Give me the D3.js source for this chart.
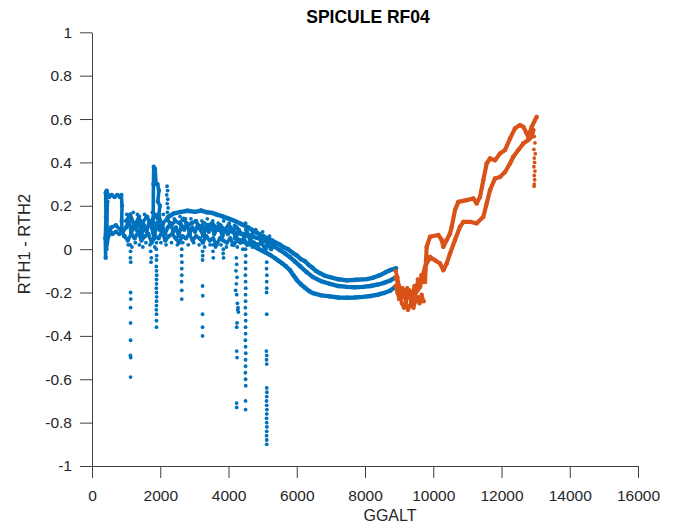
<!DOCTYPE html>
<html>
<head>
<meta charset="utf-8">
<script src="https://cdn.jsdelivr.net/npm/d3@7"></script>
<style>
  html, body { margin: 0; padding: 0; background: #fff; }
  svg { display: block; }
  text { font-family: "Liberation Sans", Arial, Helvetica, sans-serif; }
</style>
</head>
<body>
<svg id="chart" width="673" height="524"></svg>
<script>
// ---- axis ticks ----
const xTicks = [0, 2000, 4000, 6000, 8000, 10000, 12000, 14000, 16000];
const yTicks = [1, 0.8, 0.6, 0.4, 0.2, 0, -0.2, -0.4, -0.6, -0.8, -1];
const yTickLabels = ["1", "0.8", "0.6", "0.4", "0.2", "0", "-0.2", "-0.4", "-0.6", "-0.8", "-1"];

// ---- blue series (lower altitudes): continuous flight tracks [GGALT, RTH1-RTH2] ----
const blueLoop = [[400,-0.04],[390,0.05],[410,0.15],[400,0.26],[430,0.27],[500,0.24],[580,0.25],[660,0.24],
  [740,0.25],[820,0.24],[860,0.25],[880,0.20],[870,0.13],[880,0.08],[800,0.07],[700,0.08],[600,0.07],
  [520,0.09],[460,0.06],[430,0.14],[450,0.22],[420,0.0],[480,0.06],[560,0.10],[700,0.11],[880,0.08],[950,0.06]];

const blueBandMid = [[900,0.08],[1000,0.10],[1080,0.14],[1150,0.07],[1230,0.12],[1300,0.09],[1380,0.15],[1450,0.06],
  [1520,0.11],[1600,0.08],[1680,0.13],[1750,0.10],[1820,0.05],[1900,0.12],[1980,0.09],[2060,0.11],[2140,0.07],
  [2220,0.10],[2300,0.12],[2380,0.08],[2460,0.10],[2540,0.06],[2620,0.11],[2700,0.09],[2780,0.12],[2860,0.07],
  [2940,0.10],[3020,0.08],[3100,0.11],[3180,0.09],[3260,0.06],[3340,0.10],[3420,0.08],[3500,0.11],[3580,0.07],
  [3660,0.09],[3740,0.10],[3820,0.06],[3900,0.09],[3980,0.07],[4060,0.10],[4140,0.08],[4220,0.05],[4300,0.09],
  [4380,0.07],[4460,0.06],[4540,0.08],[4620,0.05],[4700,0.07]];

const blueBandLow = [[950,0.06],[1050,0.04],[1150,0.07],[1250,0.05],[1350,0.08],[1450,0.04],[1550,0.06],[1650,0.07],
  [1750,0.03],[1850,0.06],[1950,0.05],[2050,0.08],[2150,0.04],[2250,0.06],[2350,0.07],[2450,0.05],[2550,0.03],
  [2650,0.06],[2750,0.05],[2850,0.07],[2950,0.04],[3050,0.06],[3150,0.05],[3250,0.03],[3350,0.06],[3450,0.04],
  [3550,0.05],[3650,0.02],[3750,0.05],[3850,0.04],[3950,0.03],[4050,0.05],[4150,0.02],[4250,0.04],[4350,0.03],
  [4450,0.05],[4550,0.02],[4650,0.04],[4750,0.03],[4850,0.02],[4950,0.03],[5050,0.01],[5150,0.02],[5250,0.0]];

const blueBandHigh = [[1000,0.13],[1120,0.16],[1240,0.11],[1360,0.14],[1480,0.12],[1600,0.15],[1720,0.12],[1840,0.16],
  [1960,0.13],[2080,0.12],[2200,0.14],[2320,0.11],[2440,0.13],[2560,0.12],[2680,0.14],[2800,0.11],[2920,0.12],
  [3040,0.13],[3160,0.10],[3280,0.12],[3400,0.11],[3520,0.12],[3640,0.10],[3760,0.11],[3880,0.09],[4000,0.11],
  [4120,0.09],[4240,0.10]];

// scattered samples filling the noisy low-level band
const blueBandDots = [[1020,0.16],[1060,0.02],[1110,0.15],[1170,0.01],[1210,0.17],[1270,0.03],[1330,0.16],[1390,0.02],
  [1430,0.13],[1490,0.01],[1540,0.16],[1580,0.03],[1630,0.15],[1700,0.02],[1770,0.17],[1840,0.01],[1930,0.15],
  [2020,0.03],[2090,0.16],[2170,0.02],[2260,0.15],[2330,0.03],[2410,0.14],[2500,0.02],[2580,0.15],[2660,0.03],
  [2740,0.14],[2820,0.02],[2900,0.14],[2980,0.03],[3060,0.13],[3140,0.02],[3220,0.13],[3300,0.01],[3380,0.14],
  [3460,0.02],[3540,0.13],[3620,0.01],[3700,0.12],[3780,0.02],[3860,0.13],[3940,0.01],[4020,0.12],[4100,0.02],
  [4180,0.11],[4260,0.01],[4340,0.12],[4420,0.0],[4600,0.10],[4700,0.01],[4800,0.09],[4900,0.02],[5000,0.08],
  [5100,0.0],[5200,0.06],[5300,0.01]];

const blueSpike = [[1790,0.08],[1800,0.30],[1810,0.38],[1850,0.37],[1880,0.30],[1920,0.30],[1960,0.27],[1930,0.22],
  [1990,0.20],[1960,0.16],[2000,0.13],[2010,0.10]];

const blueUpper = [[2227,0.148],[2400,0.165],[2579,0.171],[2800,0.177],[3018,0.172],[3200,0.178],[3370,0.170],
  [3520,0.167],[3663,0.159],[3830,0.151],[3985,0.142],[4120,0.134],[4249,0.125],[4400,0.114],[4542,0.102],
  [4680,0.090],[4806,0.078],[4920,0.068],[5040,0.058],[5160,0.048],[5275,0.040],[5400,0.029],[5509,0.020],
  [5620,0.008],[5743,0.000],[5880,-0.017],[6007,-0.030],[6120,-0.046],[6241,-0.056],[6350,-0.073],[6447,-0.084],
  [6560,-0.100],[6681,-0.111],[6830,-0.123],[6974,-0.129],[7220,-0.139],[7473,-0.144],[7760,-0.141],
  [8059,-0.138],[8250,-0.131],[8440,-0.120],[8600,-0.107],[8733,-0.097],[8908,-0.088]];

const blueMiddle = [[3165,0.097],[3400,0.095],[3604,0.092],[3820,0.086],[4044,0.083],[4260,0.074],[4483,0.069],
  [4680,0.058],[4864,0.051],[5040,0.038],[5216,0.028],[5370,0.010],[5509,-0.005],[5660,-0.020],[5802,-0.037],
  [5950,-0.058],[6095,-0.078],[6290,-0.106],[6476,-0.129],[6720,-0.148],[6974,-0.160],[7220,-0.170],
  [7473,-0.174],[7700,-0.176],[7941,-0.174],[8160,-0.170],[8381,-0.163],[8560,-0.155],[8733,-0.145],[8908,-0.129]];

const blueLower = [[4190,0.051],[4410,0.036],[4630,0.023],[4850,0.004],[5070,-0.014],[5220,-0.027],[5363,-0.042],
  [5470,-0.054],[5568,-0.065],[5690,-0.080],[5802,-0.097],[5900,-0.120],[6007,-0.143],[6120,-0.162],[6241,-0.178],
  [6360,-0.193],[6476,-0.203],[6720,-0.213],[6974,-0.218],[7220,-0.223],[7473,-0.224],[7700,-0.223],
  [7941,-0.220],[8160,-0.216],[8381,-0.210],[8560,-0.202],[8733,-0.192],[8908,-0.171]];

// ---- blue isolated samples ----
const blueScatter = [
  [1120,0.02],[1130,-0.01],[1125,-0.04],[1135,-0.06],[1130,-0.20],[1135,-0.23],[1130,-0.27],[1130,-0.34],
  [1130,-0.42],[1125,-0.49],[1135,-0.50],[1130,-0.59],
  [1720,-0.01],[1740,-0.04],[1730,-0.06],
  [1890,0.03],[1885,0.0],[1895,-0.03],[1890,-0.05],[1885,-0.08],[1890,-0.10],[1895,-0.12],[1890,-0.14],
  [1890,-0.16],[1885,-0.18],[1890,-0.20],[1895,-0.22],[1890,-0.24],[1890,-0.26],[1885,-0.28],[1890,-0.30],
  [1890,-0.33],[1890,-0.36],
  [2200,0.29],[2215,0.27],[2190,0.25],[2220,0.23],[2205,0.21],[2230,0.19],[2210,0.17],
  [2630,0.0],[2625,-0.03],[2635,-0.06],[2630,-0.09],[2630,-0.12],[2625,-0.15],[2630,-0.19],[2630,-0.23],
  [3240,-0.01],[3245,-0.03],[3240,-0.05],[3240,-0.17],[3245,-0.215],[3240,-0.30],[3240,-0.36],[3240,-0.40],
  [3550,0.02],[3545,-0.01],[3555,-0.04],
  [3850,0.0],[3845,-0.02],[3855,-0.04],
  [4230,-0.04],[4240,-0.07],[4220,-0.10],[4250,-0.13],[4230,-0.16],[4210,-0.19],[4240,-0.21],[4260,-0.25],
  [4280,-0.27],[4290,-0.29],[4270,-0.28],[4250,-0.34],[4240,-0.36],[4240,-0.47],[4250,-0.50],[4240,-0.71],[4240,-0.73],
  [4500,0.12],[4505,0.09],[4500,0.06],[4495,0.03],[4500,0.0],[4505,-0.03],[4500,-0.06],[4500,-0.09],[4495,-0.12],
  [4500,-0.15],[4505,-0.18],[4500,-0.21],[4500,-0.24],[4495,-0.27],[4500,-0.30],[4505,-0.33],[4500,-0.36],
  [4500,-0.39],[4495,-0.42],[4500,-0.45],[4505,-0.48],[4500,-0.51],[4500,-0.54],[4495,-0.57],[4500,-0.60],
  [4505,-0.63],[4500,-0.70],[4500,-0.74],
  [5120,-0.06],[5115,-0.09],[5125,-0.12],[5120,-0.15],[5120,-0.18],[5115,-0.20],[5120,-0.30],[5110,-0.47],
  [5120,-0.49],[5115,-0.51],[5120,-0.53],[5120,-0.64],[5125,-0.66],[5120,-0.68],[5115,-0.70],[5120,-0.72],
  [5125,-0.74],[5120,-0.76],[5115,-0.78],[5120,-0.80],[5125,-0.82],[5120,-0.84],[5115,-0.86],[5120,-0.88],[5120,-0.90]
];

// ---- orange series (higher altitudes) ----
const orangeClusterA = [[8900,-0.10],[8950,-0.13],[9000,-0.17],[9050,-0.20],[9100,-0.18],[9150,-0.22],[9200,-0.24],
  [9250,-0.21],[9300,-0.19],[9350,-0.23],[9400,-0.20],[9450,-0.17],[9500,-0.19],[9550,-0.14],[9600,-0.17],
  [9650,-0.12],[9700,-0.15],[9758,-0.151]];
const orangeClusterB = [[8900,-0.13],[8960,-0.16],[9020,-0.21],[9080,-0.25],[9140,-0.27],[9200,-0.25],[9260,-0.28],
  [9320,-0.26],[9380,-0.24],[9415,-0.22]];
const orangeClusterC = [[8900,-0.17],[8950,-0.20],[9000,-0.23],[9060,-0.22],[9120,-0.19],[9180,-0.21],[9240,-0.18],
  [9300,-0.22],[9360,-0.25],[9420,-0.27],[9480,-0.24],[9540,-0.22],[9600,-0.25],[9660,-0.21],[9720,-0.24]];

const orangeUpper = [[9758,-0.151],[9808,0.011],[9905,0.057],[10148,0.065],[10248,0.042],[10295,0.011],[10394,0.042],
  [10491,0.072],[10541,0.103],[10637,0.180],[10734,0.218],[10980,0.226],[11174,0.234],[11273,0.211],[11370,0.241],
  [11467,0.318],[11566,0.395],[11663,0.418],[11809,0.410],[11956,0.441],[12103,0.457],[12249,0.510],[12396,0.557],
  [12542,0.572],[12639,0.564],[12738,0.534],[12785,0.518],[12885,0.564],[12982,0.595],[13031,0.610]];

const orangeLower = [[9415,-0.220],[9612,-0.174],[9758,-0.082],[9905,-0.036],[10051,-0.051],[10198,-0.066],
  [10295,-0.097],[10394,-0.066],[10491,-0.020],[10637,0.042],[10784,0.103],[10881,0.126],[11077,0.126],
  [11273,0.119],[11467,0.149],[11566,0.211],[11663,0.272],[11809,0.326],[11956,0.333],[12103,0.356],
  [12249,0.395],[12346,0.426],[12493,0.457],[12639,0.487],[12785,0.503],[12885,0.518],[12932,0.549]];

const orangeScatter = [[12960,0.52],[12980,0.49],[12950,0.46],[12990,0.44],[12960,0.42],[12970,0.40],[12950,0.38],
  [12980,0.36],[12960,0.34],[12970,0.32],[12960,0.30],[12955,0.29]];

const BLUE = "#0072BD";
const ORANGE = "#D95319";

// ---- layout ----
const svg = d3.select("#chart");
const x = d3.scaleLinear().domain([0, 16000]).range([92, 638]);
const y = d3.scaleLinear().domain([-1, 1]).range([466, 32.3]);

const axisColor = "#404040";
const textColor = "#262626";

// x axis
const gx = svg.append("g").attr("transform", `translate(0,${y(-1)})`)
  .call(d3.axisBottom(x).tickValues(xTicks).tickFormat(d3.format("d")).tickSize(12).tickSizeOuter(0));
// y axis
const gy = svg.append("g").attr("transform", `translate(${x(0)},0)`)
  .call(d3.axisLeft(y).tickValues(yTicks).tickFormat((d, i) => yTickLabels[i]).tickSize(12).tickSizeOuter(0));

[gx, gy].forEach(g => {
  g.select(".domain").attr("stroke", axisColor).attr("stroke-width", 1);
  g.selectAll(".tick line").attr("stroke", axisColor).attr("stroke-width", 1);
  g.selectAll(".tick text").attr("fill", textColor).style("font-size", "15.5px")
    .style("font-family", "'Liberation Sans', Arial, sans-serif");
});
gx.selectAll(".tick text").attr("dy", "0.71em").attr("y", 24);
gy.selectAll(".tick text").attr("x", -20);

// ---- traces ----
const line = d3.line().x(d => x(d[0])).y(d => y(d[1])).curve(d3.curveLinear);
const plot = svg.append("g");

function track(data, color, w) {
  plot.append("path").datum(data)
    .attr("d", line).attr("fill", "none").attr("stroke", color)
    .attr("stroke-width", w).attr("stroke-linejoin", "round").attr("stroke-linecap", "round");
  plot.append("g").selectAll("circle").data(data).join("circle")
    .attr("cx", d => x(d[0])).attr("cy", d => y(d[1])).attr("r", 2.2).attr("fill", color);
}

function dots(data, color) {
  plot.append("g").selectAll("circle").data(data).join("circle")
    .attr("cx", d => x(d[0])).attr("cy", d => y(d[1])).attr("r", 1.9).attr("fill", color);
}

[blueLoop, blueBandMid, blueBandLow, blueBandHigh, blueSpike].forEach(t => track(t, BLUE, 3.6));
[blueUpper, blueMiddle, blueLower].forEach(t => track(t, BLUE, 4.4));
dots(blueBandDots, BLUE);
dots(blueScatter, BLUE);

[orangeClusterA, orangeClusterB, orangeClusterC].forEach(t => track(t, ORANGE, 3.6));
[orangeUpper, orangeLower].forEach(t => track(t, ORANGE, 4.2));
dots(orangeScatter, ORANGE);

// ---- titles ----
svg.append("text").attr("x", 368).attr("y", 23).attr("text-anchor", "middle")
  .style("font-size", "17.5px").style("font-weight", "bold").attr("fill", "#000")
  .text("SPICULE RF04");

svg.append("text").attr("x", 390).attr("y", 521).attr("text-anchor", "middle")
  .style("font-size", "16px").attr("fill", textColor).text("GGALT");

svg.append("text").attr("transform", "translate(30,244) rotate(-90)").attr("text-anchor", "middle")
  .style("font-size", "16.5px").attr("fill", textColor).text("RTH1 - RTH2");
</script>
</body>
</html>
